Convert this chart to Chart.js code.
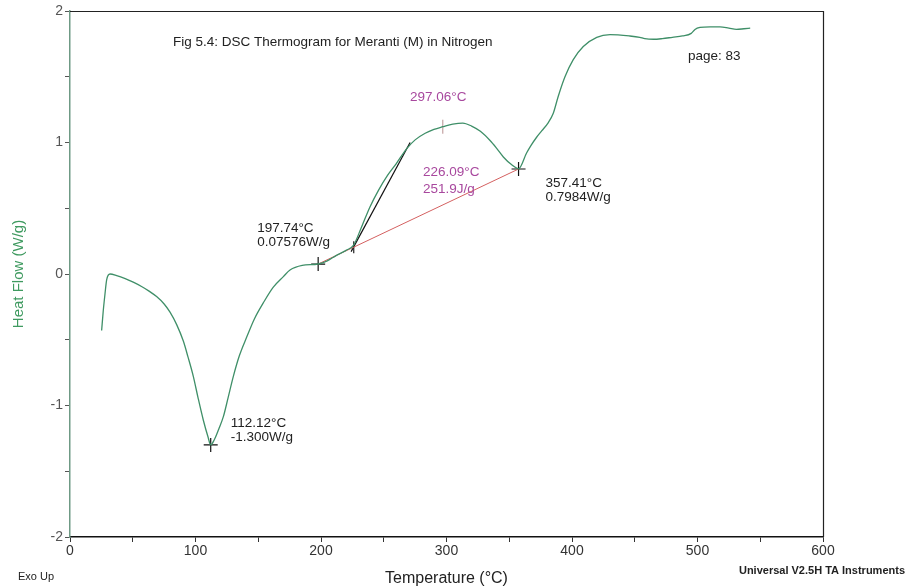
<!DOCTYPE html>
<html>
<head>
<meta charset="utf-8">
<script src="https://cdn.jsdelivr.net/npm/chart.js@4.4.0/dist/chart.umd.min.js"></script>
<style>
  html, body { margin: 0; padding: 0; background: #fff; }
  #wrap { width: 907px; height: 588px; }
</style>
</head>
<body>
<div id="wrap"><canvas id="dsc"></canvas></div>
<script>
// DSC curve
const temps = [25.2, 26.5, 27.9, 29.2, 31.9, 37.2, 44, 50.4, 57, 63, 69, 75, 79.7, 85, 90.3, 94, 98.3, 102, 106.2, 110, 112.1,
    115, 118.5, 122.2, 126, 130.1, 135, 140.8, 147, 154, 162, 170, 175.3, 185, 197.7, 205, 212, 220, 226,
    232, 239, 246, 253, 260, 268, 275, 283, 290, 297, 305, 313, 320, 327, 334.7, 340, 345.3, 352, 357.4,
    363.8, 367.5, 371.8, 376, 381, 385, 389, 394.4, 401, 409, 419.7, 430.3, 446, 454, 458, 465, 472, 480,
    488, 495, 498, 502, 510, 518, 525, 531, 537, 542];
const heatFlow = [-0.43, -0.28, -0.15, -0.045, 0.0, -0.012, -0.035, -0.062, -0.095, -0.13, -0.172, -0.228, -0.29, -0.385, -0.51, -0.63, -0.78, -0.94, -1.11, -1.24, -1.3,
    -1.26, -1.18, -1.085, -0.94, -0.78, -0.62, -0.48, -0.34, -0.22, -0.1, -0.02, 0.03, 0.065, 0.076, 0.1, 0.14, 0.18, 0.22,
    0.35, 0.51, 0.64, 0.75, 0.84, 0.95, 1.02, 1.07, 1.1, 1.12, 1.14, 1.148, 1.125, 1.085, 1.015, 0.955, 0.89, 0.83, 0.8,
    0.92, 0.98, 1.04, 1.09, 1.15, 1.22, 1.35, 1.5, 1.63, 1.73, 1.8, 1.82, 1.81, 1.8, 1.79, 1.785, 1.79, 1.8,
    1.81, 1.83, 1.86, 1.875, 1.88, 1.88, 1.87, 1.86, 1.865, 1.87];

// analysis points
const crossT = [112.12, 197.74, 357.41];
const crossHF = [-1.300, 0.07576, 0.7984];
const crossLabels = [['112.12°C', '-1.300W/g'], ['197.74°C', '0.07576W/g'], ['357.41°C', '0.7984W/g']];
const tangentT = [224, 271];
const tangentHF = [0.17, 1.0];
const onsetT = 226.09, onsetHF = 0.204;
const peakT = 297.06, peakHF = 1.12;
const enthalpyLabels = ['226.09°C', '251.9J/g'];
const peakLabel = '297.06°C';

const xTicks = [0, 100, 200, 300, 400, 500, 600];
const yTicks = [-2, -1, 0, 1, 2];

const font = "'Liberation Sans', Arial, sans-serif";
const green = '#3f8f68';
const purple = '#a8489e';

function pts(xs, ys) {
    return xs.map((x, i) => ({ x: x, y: ys[i] }));
}

// texts and frame
const annotations = {
    id: 'annotations',
    afterDraw(chart) {
        const ctx = chart.ctx;
        const xs = chart.scales.x, ys = chart.scales.y;
        const a = chart.chartArea;
        ctx.save();
        // top and right border
        ctx.strokeStyle = '#222';
        ctx.lineWidth = 1.2;
        ctx.beginPath();
        ctx.moveTo(a.left, a.top + 0.5);
        ctx.lineTo(a.right + 0.5, a.top + 0.5);
        ctx.lineTo(a.right + 0.5, a.bottom);
        ctx.stroke();

        ctx.textBaseline = 'middle';
        ctx.textAlign = 'left';
        ctx.fillStyle = '#222';
        ctx.font = '13.5px ' + font;
        ctx.fillText('Fig 5.4: DSC Thermogram for Meranti (M) in Nitrogen', 173, 42);
        ctx.fillText('page: 83', 688, 56);

        const offs = [[20, -22], [-61, -36], [27, 14]];
        crossT.forEach((t, i) => {
            const px = xs.getPixelForValue(t), py = ys.getPixelForValue(crossHF[i]);
            ctx.fillText(crossLabels[i][0], px + offs[i][0], py + offs[i][1]);
            ctx.fillText(crossLabels[i][1], px + offs[i][0], py + offs[i][1] + 14);
        });

        ctx.fillStyle = purple;
        ctx.fillText(enthalpyLabels[0], 423, 172);
        ctx.fillText(enthalpyLabels[1], 423, 189);
        ctx.fillText(peakLabel, 410, 97);

        ctx.fillStyle = '#222';
        ctx.font = '11px ' + font;
        ctx.fillText('Exo Up', 18, 577);
        ctx.font = 'bold 11px ' + font;
        ctx.textAlign = 'right';
        ctx.fillText('Universal V2.5H TA Instruments', 905, 571);
        ctx.restore();
    }
};

new Chart(document.getElementById('dsc'), {
    type: 'scatter',
    data: {
        datasets: [
            {
                label: 'Heat Flow',
                data: pts(temps, heatFlow),
                showLine: true,
                borderColor: green,
                borderWidth: 1.3,
                pointRadius: 0,
                cubicInterpolationMode: 'monotone'
            },
            {
                label: 'baseline',
                data: pts([crossT[1], crossT[2]], [crossHF[1], crossHF[2]]),
                showLine: true,
                borderColor: '#d46060',
                borderWidth: 1,
                pointRadius: 0
            },
            {
                label: 'tangent',
                data: pts(tangentT, tangentHF),
                showLine: true,
                borderColor: '#111',
                borderWidth: 1.2,
                pointRadius: 0
            },
            {
                label: 'crosses',
                data: pts(crossT, crossHF),
                showLine: false,
                pointStyle: 'cross',
                pointRadius: 7,
                borderColor: '#111',
                borderWidth: 1.2
            },
            {
                label: 'onset',
                data: [{ x: onsetT, y: onsetHF }],
                pointStyle: 'line',
                rotation: 90,
                pointRadius: 6,
                borderColor: '#222',
                borderWidth: 1.2
            },
            {
                label: 'peak',
                data: [{ x: peakT, y: peakHF }],
                pointStyle: 'line',
                rotation: 90,
                pointRadius: 7,
                borderColor: '#b89090',
                borderWidth: 1
            }
        ]
    },
    options: {
        responsive: true,
        maintainAspectRatio: false,
        animation: false,
        layout: { padding: { left: 0, right: 84, top: 11, bottom: 0 } },
        plugins: {
            legend: { display: false },
            tooltip: { enabled: false }
        },
        scales: {
            x: {
                type: 'linear',
                min: 0,
                max: 600,
                afterFit(scale) { scale.height = 51; },
                border: { color: '#111', width: 1.5 },
                grid: { drawOnChartArea: false, tickLength: 5, color: '#333', tickColor: '#333' },
                ticks: {
                    stepSize: 50,
                    padding: 1,
                    color: '#333',
                    font: { size: 14, family: font },
                    maxRotation: 0,
                    callback: v => xTicks.includes(v) ? String(v) : ''
                },
                title: {
                    display: true,
                    text: 'Temperature (°C)',
                    color: '#222',
                    font: { size: 16, family: font },
                    padding: { top: 0, bottom: 0 }
                }
            },
            y: {
                type: 'linear',
                min: -2,
                max: 2,
                afterFit(scale) { scale.width = 70; },
                border: { color: '#6f9a85', width: 1.5 },
                grid: { drawOnChartArea: false, tickLength: 5, color: '#6f9a85', tickColor: '#555' },
                ticks: {
                    stepSize: 0.5,
                    padding: 2,
                    color: '#555',
                    font: { size: 14, family: font },
                    callback: v => yTicks.includes(v) ? String(v) : ''
                },
                title: {
                    display: true,
                    text: 'Heat Flow (W/g)',
                    color: '#3f9a60',
                    font: { size: 15, family: font },
                    padding: { top: 10, bottom: 4 }
                }
            }
        }
    },
    plugins: [annotations]
});
</script>
</body>
</html>
